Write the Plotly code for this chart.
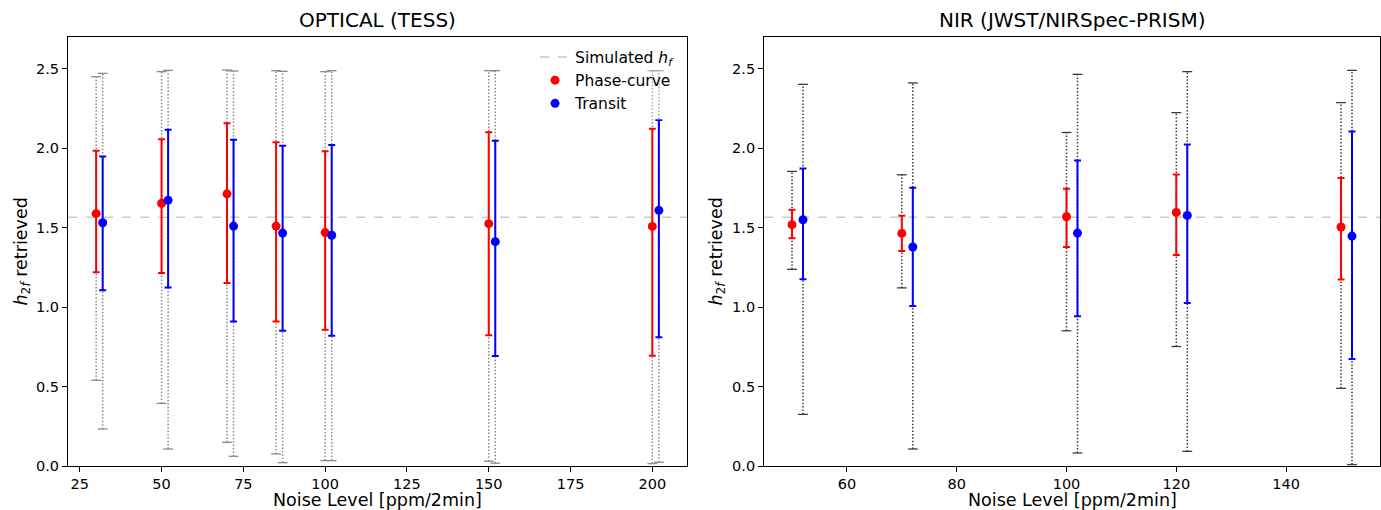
import plotly.graph_objects as go
from plotly.subplots import make_subplots

# Simulated value of the harmonic amplitude
SIM_HF = 1.565
# Transit points are shifted right so the two series don't overlap
OFFSET = 2

# ---- OPTICAL (TESS) ----
tess_noise = [30, 50, 70, 85, 100, 150, 200]
tess_pc_med = [1.588, 1.653, 1.713, 1.510, 1.469, 1.525, 1.508]
tess_pc_lo = [1.219, 1.215, 1.152, 0.909, 0.857, 0.823, 0.694]
tess_pc_hi = [1.984, 2.057, 2.157, 2.038, 1.981, 2.100, 2.122]
tess_pc_min = [0.539, 0.394, 0.149, 0.076, 0.034, 0.030, 0.015]
tess_pc_max = [2.450, 2.482, 2.492, 2.488, 2.482, 2.488, 2.488]
tess_tr_med = [1.531, 1.673, 1.510, 1.466, 1.452, 1.412, 1.609]
tess_tr_lo = [1.106, 1.123, 0.909, 0.851, 0.819, 0.692, 0.811]
tess_tr_hi = [1.948, 2.117, 2.053, 2.015, 2.021, 2.047, 2.178]
tess_tr_min = [0.233, 0.107, 0.061, 0.021, 0.034, 0.018, 0.024]
tess_tr_max = [2.471, 2.490, 2.486, 2.484, 2.488, 2.488, 2.488]

# ---- NIR (JWST/NIRSpec-PRISM) ----
nir_noise = [50, 70, 100, 120, 150]
nir_pc_med = [1.519, 1.464, 1.569, 1.596, 1.504]
nir_pc_lo = [1.433, 1.353, 1.378, 1.328, 1.173]
nir_pc_hi = [1.613, 1.575, 1.745, 1.835, 1.812]
nir_pc_min = [1.238, 1.121, 0.851, 0.752, 0.489]
nir_pc_max = [1.854, 1.833, 2.099, 2.224, 2.287]
nir_tr_med = [1.550, 1.378, 1.466, 1.577, 1.447]
nir_tr_lo = [1.175, 1.007, 0.943, 1.026, 0.673]
nir_tr_hi = [1.872, 1.751, 1.923, 2.023, 2.105]
nir_tr_min = [0.325, 0.107, 0.082, 0.092, 0.009]
nir_tr_max = [2.402, 2.411, 2.465, 2.482, 2.490]

PC_COLOR = "#ff0000"
TR_COLOR = "#0000ff"
FONT = "DejaVu Sans"

fig = make_subplots(rows=1, cols=2)


def add_outer(x, lo, hi, color, col):
    """Dotted full-range bar with small end caps."""
    xs, ys = [], []
    for xi, a, b in zip(x, lo, hi):
        xs += [xi, xi, None]
        ys += [a, b, None]
    fig.add_trace(go.Scatter(x=xs, y=ys, mode="lines", showlegend=False,
                             hoverinfo="skip",
                             line=dict(color=color, width=1.5, dash="1.5px,1.9px")),
                  row=1, col=col)
    fig.add_trace(go.Scatter(x=list(x) + list(x), y=list(lo) + list(hi),
                             mode="markers", showlegend=False, hoverinfo="skip",
                             marker=dict(symbol="line-ew", size=7,
                                         line=dict(color=color, width=1.3))),
                  row=1, col=col)


def add_inner(x, med, lo, hi, color, name, col, legend):
    fig.add_trace(go.Scatter(
        x=x, y=med, mode="markers", name=name, showlegend=legend,
        marker=dict(color=color, size=9),
        error_y=dict(type="data", symmetric=False,
                     array=[h - m for h, m in zip(hi, med)],
                     arrayminus=[m - l for m, l in zip(med, lo)],
                     color=color, thickness=2, width=3.5)),
        row=1, col=col)


tess_tr_x = [n + OFFSET for n in tess_noise]
nir_tr_x = [n + OFFSET for n in nir_noise]

# legend-only entry for the simulated value line
fig.add_trace(go.Scatter(x=[None], y=[None], mode="lines",
                         name="Simulated <i>h<sub>f</sub></i>",
                         line=dict(color="#c8c8c8", width=1.5, dash="dash")),
              row=1, col=1)

LEFT_GRAY = "#8a8a8a"
RIGHT_GRAY = "#3a3a3a"
add_outer(tess_noise, tess_pc_min, tess_pc_max, LEFT_GRAY, 1)
add_outer(tess_tr_x, tess_tr_min, tess_tr_max, LEFT_GRAY, 1)
add_outer(nir_noise, nir_pc_min, nir_pc_max, RIGHT_GRAY, 2)
add_outer(nir_tr_x, nir_tr_min, nir_tr_max, RIGHT_GRAY, 2)

add_inner(tess_noise, tess_pc_med, tess_pc_lo, tess_pc_hi, PC_COLOR, "Phase-curve", 1, True)
add_inner(tess_tr_x, tess_tr_med, tess_tr_lo, tess_tr_hi, TR_COLOR, "Transit", 1, True)
add_inner(nir_noise, nir_pc_med, nir_pc_lo, nir_pc_hi, PC_COLOR, "Phase-curve", 2, False)
add_inner(nir_tr_x, nir_tr_med, nir_tr_lo, nir_tr_hi, TR_COLOR, "Transit", 2, False)

for col in (1, 2):
    fig.add_hline(y=SIM_HF, line=dict(color="#cccccc", width=1.5, dash="dash"),
                  layer="below", row=1, col=col)

axis_style = dict(showline=True, mirror=True, linecolor="black", linewidth=1,
                  ticks="outside", ticklen=5, tickwidth=1, tickcolor="black",
                  showgrid=False, zeroline=False,
                  tickfont=dict(family=FONT, size=14.5, color="black"))

fig.update_xaxes(**axis_style)
fig.update_yaxes(**axis_style)
fig.update_xaxes(domain=[0, 0.4718], range=[21.4, 210.6],
                 tickvals=[25, 50, 75, 100, 125, 150, 175, 200], row=1, col=1)
fig.update_xaxes(domain=[0.5305, 1.0], range=[44.9, 157.1],
                 tickvals=[60, 80, 100, 120, 140], row=1, col=2)
fig.update_yaxes(range=[0, 2.7], tickvals=[0, 0.5, 1.0, 1.5, 2.0, 2.5],
                 tickformat=".1f")

ann = []
for xref, yref, title in (("x domain", "y domain", "OPTICAL (TESS)"),
                          ("x2 domain", "y2 domain", "NIR (JWST/NIRSpec-PRISM)")):
    ann.append(dict(text=title, xref=xref, yref=yref, x=0.5, y=1.0396,
                    xanchor="center", yanchor="middle", showarrow=False,
                    font=dict(family=FONT, size=20, color="black")))
    ann.append(dict(text="Noise Level [ppm/2min]", xref=xref, yref=yref,
                    x=0.5, y=-0.079, xanchor="center", yanchor="middle",
                    showarrow=False,
                    font=dict(family=FONT, size=17.5, color="black")))
ann.append(dict(text="<i>h</i><sub>2<i>f</i></sub> retrieved", xref="x domain",
                yref="y domain", x=-0.0743, y=0.5, textangle=-90,
                xanchor="center", yanchor="middle", showarrow=False,
                font=dict(family=FONT, size=17.5, color="black")))
ann.append(dict(text="<i>h</i><sub>2<i>f</i></sub> retrieved", xref="x2 domain",
                yref="y2 domain", x=-0.0763, y=0.5, textangle=-90,
                xanchor="center", yanchor="middle", showarrow=False,
                font=dict(family=FONT, size=17.5, color="black")))

fig.update_layout(
    width=1381, height=510,
    margin=dict(l=68, r=1, t=37, b=44),
    plot_bgcolor="white", paper_bgcolor="white",
    font=dict(family=FONT, color="black"),
    annotations=ann,
    legend=dict(x=0.4665, y=0.992, xanchor="right", yanchor="top",
                bgcolor="rgba(255,255,255,0.3)", borderwidth=0,
                font=dict(family=FONT, size=15.5, color="black"),
                tracegroupgap=0, itemwidth=30),
)

fig.write_html("out.html")
